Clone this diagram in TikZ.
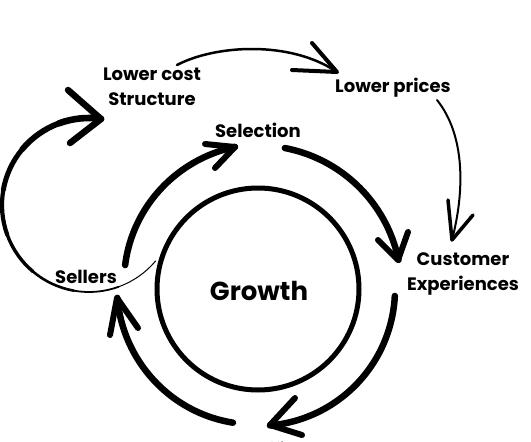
\documentclass[tikz,border=0pt]{standalone}
\usepackage{fontspec}
\setmainfont{Poppins}
\usetikzlibrary{calc}
\begin{document}
\begin{tikzpicture}[x=1pt,y=1pt,
  lbl/.style={font=\bfseries\fontsize{18}{25}\selectfont, align=center, inner sep=0pt},
  bigarc/.style={line width=6.5pt, line cap=round, line join=round},
  thinarc/.style={line width=2.5pt, line cap=round, line join=round},
  barb/.style={line width=6pt, line cap=round, line join=round}]
\useasboundingbox (0,0) rectangle (531,-442);
\clip (0,0) rectangle (531,-442);
\fill[white] (0,0) rectangle (531,-442);

% labels
\node[lbl] (cost) at (152,-87) {Lower cost\\Structure};
\node[lbl] (prices) at (393,-88) {Lower prices};
\node[lbl] (sel) at (258,-130) {Selection};
\node[lbl] (cust) at (463,-274) {Customer\\Experiences};
\node[lbl] (sell) at (86,-277) {Sellers};
\node[lbl, font=\bfseries\fontsize{26}{30}\selectfont] (grow) at (259,-291) {Growth};
\node[lbl, anchor=north] (traf) at (266,-441.5) {Traffic};

% inner circle
\draw[line width=5pt] (258,-289) circle[radius=101];

% outer cycle arcs (slight spirals)
\def\cx{258}\def\cy{-289}
% arc 1: Selection -> Customer
\draw[bigarc, domain=79.2:11.7, samples=40, variable=\t, smooth]
  plot ({\cx+143.5*cos(\t)},{\cy+143.5*sin(\t)});
\coordinate (t1) at (398,-260);
\draw[barb] (378,-240) -- (t1) -- (408,-232);
% arc 2: Customer -> Traffic
\draw[bigarc, domain=-2.9:-85, samples=40, variable=\t, smooth]
  plot ({\cx+137*cos(\t)},{\cy+137*sin(\t)});
\coordinate (t2) at (270,-425);
\draw[barb] (295,-398) -- (t2) -- (302,-435);
% arc 3: Traffic -> Sellers
\draw[bigarc, domain=-100.6:-176.4, samples=40, variable=\t, smooth]
  plot ({\cx+(136+5*(\t+100.6)/(-75.8))*cos(\t)},{\cy+(136+5*(\t+100.6)/(-75.8))*sin(\t)});
\coordinate (t3) at (117,-298);
\draw[barb] (110,-335) -- (t3) -- (138,-328);
% arc 4: Sellers -> Selection
\draw[bigarc, domain=169.8:99.2, samples=40, variable=\t, smooth]
  plot ({\cx+(135+9*(\t-169.8)/(-70.6))*cos(\t)},{\cy+(135+9*(\t-169.8)/(-70.6))*sin(\t)});
\coordinate (t4) at (235,-147);
\draw[barb] (205,-144) -- (t4) -- (215,-168);

% Lower cost -> Lower prices
\coordinate (s5) at (177,-65);
\coordinate (t5) at (337,-72);
\draw[thinarc] (s5) .. controls (215,-45) and (290,-40) .. (t5);
\draw[line width=4pt, line cap=round, line join=round] (312,-43) -- (t5) -- (292,-70);

% Lower prices -> Customer
\coordinate (s6) at (437,-100);
\coordinate (t6) at (452,-240);
\draw[line width=2pt, line cap=round] (s6) .. controls (465,-135) and (465,-190) .. (t6);
\draw[line width=3.5pt, line cap=round, line join=round] (448,-200) -- (t6) -- (473,-215);

% big tapered loop: Sellers -> Lower cost Structure
\foreach \a/\b/\w in {-40/-70/1, -70/-100/1.8, -100/-130/2.6, -130/-160/3.4, -160/-190/4.2, -190/-220/5, -220/-250/5.8, -250/-278/6.6}{
  \draw[line width=\w pt, line cap=round] (89,-205) ++(\a:87) arc[start angle=\a, end angle=\b, radius=87];
}
\coordinate (t7) at (101,-119);
\draw[barb, line width=6.5pt] (68,-90) -- (t7) -- (70,-143);
\end{tikzpicture}
\end{document}
